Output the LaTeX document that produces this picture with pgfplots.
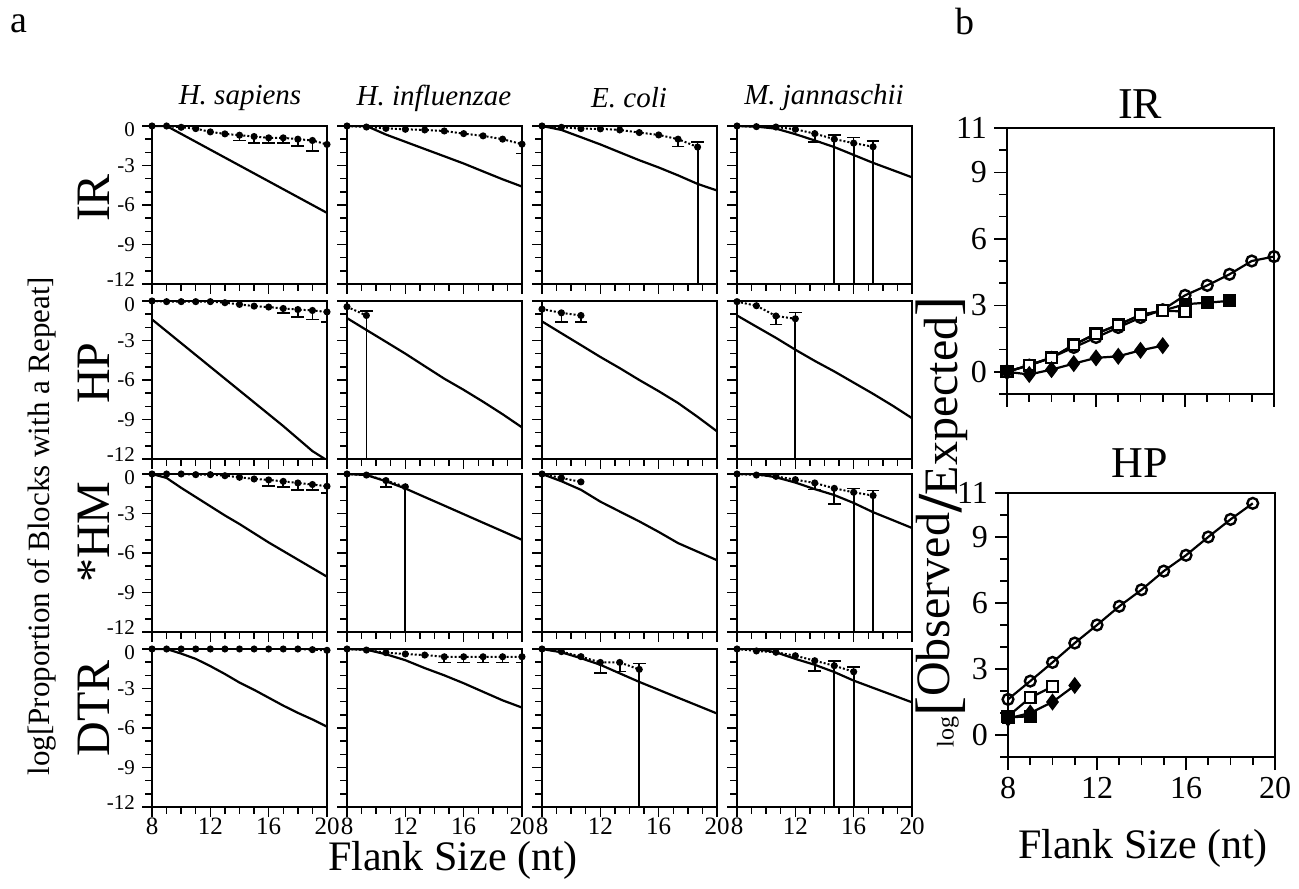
\documentclass[border=0pt]{standalone}
\usepackage{fontspec}
\setmainfont{Liberation Serif}
\usepackage{pgfplots}
\pgfplotsset{compat=1.18}

\pgfplotsset{
  pa/.style={scale only axis, width=87.5pt, height=79pt, anchor=south west,
    xmin=8, xmax=20, ymin=-12, ymax=0,
    xtick={8,12,16,20}, minor xtick={9,10,11,13,14,15,17,18,19},
    ytick={0,-3,-6,-9,-12}, minor ytick={-1,-2,-4,-5,-7,-8,-10,-11},
    xticklabels={}, yticklabels={},
    tick pos=left, tick align=outside,
    major tick length=5pt, minor tick length=3.3pt,
    every tick/.style={black, line width=0.7pt},
    axis line style={line width=0.7pt},
    ticklabel style={font=\fontsize{12.5}{14}\selectfont},
    xticklabel style={yshift=3pt},
    /pgf/number format/assume math mode=true},
  lab/.style={xticklabels={8,12,16,20}},
  ylab/.style={yticklabels={0,-3,-6,-9,-12},
    yticklabel style={font=\fontsize{10.5}{12}\selectfont, inner ysep=0pt,
      yshift={((\ticknum==4)-(\ticknum==0))*2pt}}},
  ex/.style={black, line width=1.1pt, no marks},
  ob/.style={black, densely dotted, line width=1pt, mark=*, mark size=1.25pt, mark options={solid}},
  eb/.style={draw=none, mark=none, forget plot, error bars/.cd, y dir=minus, y explicit,
    error mark options={rotate=90, mark size=3.2pt, line width=0.8pt, draw=black},
    error bar style={draw=black, line width=0.8pt}},
  ebu/.style={draw=none, mark=none, forget plot, error bars/.cd, y dir=plus, y explicit,
    error mark options={rotate=90, mark size=3.2pt, line width=0.8pt, draw=black},
    error bar style={draw=black, line width=0.8pt}},
  dl/.style={black, line width=0.9pt, no marks},
  pb/.style={scale only axis, width=133.5pt, height=133pt, anchor=south west,
    xmin=8, xmax=20, ymin=-1, ymax=11,
    xtick={8,12,16,20}, minor xtick={9,10,11,13,14,15,17,18,19},
    ytick={0,3,6,9,11}, minor ytick={-1,1,2,4,5,7,8,10},
    tick pos=left, tick align=outside,
    major tick length=6.5pt, minor tick length=4pt,
    every tick/.style={black, line width=0.8pt},
    axis line style={line width=0.8pt},
    ticklabel style={font=\fontsize{16}{18}\selectfont},
    /pgf/number format/assume math mode=true, clip=false},
  oc/.style={black, line width=1.1pt, mark=o, mark size=2.7pt, mark options={fill=white, line width=1.2pt}},
  os/.style={black, line width=1.1pt, mark=square*, mark size=2.7pt, mark options={fill=white, line width=1.2pt}},
  fs/.style={black, line width=1.1pt, mark=square*, mark size=2.7pt, mark options={fill=black}},
  fd/.style={black, line width=1.1pt, mark=diamond*, mark size=3.4pt, mark options={fill=black}},
}

\begin{document}
\begin{tikzpicture}
\path[use as bounding box] (0,0) rectangle (649.5pt,444pt);

% ---------- row 1: IR ----------
\begin{axis}[pa, ylab, at={(76pt,302pt)}]
\addplot[ex] coordinates {(8,0)(9,0)(10,-0.6)(11,-1.2)(12,-1.8)(13,-2.4)(14,-3.0)(15,-3.6)(16,-4.2)(17,-4.8)(18,-5.4)(19,-6.0)(20,-6.6)};
\addplot[ob] coordinates {(8,0)(9,0)(10,-0.1)(11,-0.2)(12,-0.45)(13,-0.6)(14,-0.7)(15,-0.8)(16,-0.9)(17,-0.9)(18,-1.0)(19,-1.1)(20,-1.4)};
\addplot[eb] coordinates {(14,-0.7)+-(0,0.4) (15,-0.8)+-(0,0.5) (16,-0.9)+-(0,0.4) (17,-0.9)+-(0,0.4) (18,-1.0)+-(0,0.5) (19,-1.1)+-(0,0.8)};
\end{axis}
\begin{axis}[pa, at={(173.5pt,302pt)}]
\addplot[ex] coordinates {(8,0)(9.33,0)(10.67,-0.65)(12,-1.2)(13.33,-1.75)(14.67,-2.3)(16,-2.85)(17.33,-3.45)(18.67,-4.05)(20,-4.6)};
\addplot[ob] coordinates {(8,0)(9.33,-0.08)(10.67,-0.18)(12,-0.25)(13.33,-0.3)(14.67,-0.38)(16,-0.58)(17.33,-0.75)(18.67,-1.0)(20,-1.38)};
\addplot[eb] coordinates {(20,-1.38)+-(0,0.7)};
\addplot[dl] coordinates {(20,-1.38)(20,-12)};
\end{axis}
\begin{axis}[pa, at={(271pt,302pt)}]
\addplot[ex] coordinates {(8,0)(9.33,-0.3)(10.67,-0.85)(12,-1.4)(13.33,-2.0)(14.67,-2.6)(16,-3.15)(17.33,-3.75)(18.67,-4.4)(20,-4.9)};
\addplot[ob] coordinates {(8,0)(9.33,-0.1)(10.67,-0.2)(12,-0.22)(13.33,-0.3)(14.67,-0.5)(16,-0.68)(17.33,-1.0)(18.67,-1.6)};
\addplot[eb] coordinates {(17.33,-1.0)+-(0,0.55)};
\addplot[ebu] coordinates {(18.67,-1.6)+-(0,0.38)};
\addplot[dl] coordinates {(18.67,-1.6)(18.67,-12)};
\end{axis}
\begin{axis}[pa, at={(368.5pt,302pt)}]
\addplot[ex] coordinates {(8,0)(9.33,-0.05)(10.67,-0.2)(12,-0.62)(13.33,-1.1)(14.67,-1.6)(16,-2.2)(17.33,-2.8)(18.67,-3.35)(20,-3.9)};
\addplot[ob] coordinates {(8,0)(9.33,-0.05)(10.67,-0.08)(12,-0.25)(13.33,-0.58)(14.67,-1.0)(16,-1.3)(17.33,-1.58)};
\addplot[eb] coordinates {(13.33,-0.58)+-(0,0.62)};
\addplot[ebu] coordinates {(14.67,-1.0)+-(0,0.3) (16,-1.3)+-(0,0.42) (17.33,-1.58)+-(0,0.46)};
\addplot[dl] coordinates {(14.67,-1.0)(14.67,-12)};
\addplot[dl] coordinates {(16,-1.3)(16,-12)};
\addplot[dl] coordinates {(17.33,-1.58)(17.33,-12)};
\end{axis}

% ---------- row 2: HP ----------
\begin{axis}[pa, ylab, at={(76pt,214.5pt)}]
\addplot[ex] coordinates {(8,-1.4)(9,-2.3)(10,-3.2)(11,-4.1)(12,-5.0)(13,-5.9)(14,-6.8)(15,-7.7)(16,-8.6)(17,-9.5)(18,-10.45)(19,-11.4)(20,-12.1)};
\addplot[ob] coordinates {(8,0)(9,-0.05)(10,-0.05)(11,-0.05)(12,-0.05)(13,-0.13)(14,-0.26)(15,-0.39)(16,-0.46)(17,-0.57)(18,-0.65)(19,-0.72)(20,-0.83)};
\addplot[eb] coordinates {(17,-0.57)+-(0,0.35) (18,-0.65)+-(0,0.55) (19,-0.72)+-(0,0.7) (20,-0.83)+-(0,0.75)};
\end{axis}
\begin{axis}[pa, at={(173.5pt,214.5pt)}]
\addplot[ex] coordinates {(8,-1.3)(9.33,-2.2)(10.67,-3.1)(12,-4.0)(13.33,-4.95)(14.67,-5.9)(16,-6.75)(17.33,-7.65)(18.67,-8.6)(20,-9.6)};
\addplot[ob] coordinates {(8,-0.44)(9.33,-1.1)};
\addplot[ebu] coordinates {(9.33,-1.1)+-(0,0.32)};
\addplot[dl] coordinates {(9.33,-1.1)(9.33,-12)};
\end{axis}
\begin{axis}[pa, at={(271pt,214.5pt)}]
\addplot[ex] coordinates {(8,-1.55)(9.33,-2.45)(10.67,-3.35)(12,-4.25)(13.33,-5.1)(14.67,-6.0)(16,-6.85)(17.33,-7.75)(18.67,-8.8)(20,-9.9)};
\addplot[ob] coordinates {(8,-0.62)(9.33,-0.9)(10.67,-1.1)};
\addplot[eb] coordinates {(9.33,-0.9)+-(0,0.7) (10.67,-1.1)+-(0,0.5)};
\end{axis}
\begin{axis}[pa, at={(368.5pt,214.5pt)}]
\addplot[ex] coordinates {(8,-1.1)(9.33,-1.95)(10.67,-2.8)(12,-3.7)(13.33,-4.55)(14.67,-5.35)(16,-6.2)(17.33,-7.05)(18.67,-7.95)(20,-8.9)};
\addplot[ob] coordinates {(8,-0.05)(9.33,-0.36)(10.67,-1.14)(12,-1.35)};
\addplot[eb] coordinates {(10.67,-1.14)+-(0,0.66)};
\addplot[ebu] coordinates {(12,-1.35)+-(0,0.47)};
\addplot[dl] coordinates {(12,-1.35)(12,-12)};
\end{axis}

% ---------- row 3: *HM ----------
\begin{axis}[pa, ylab, at={(76pt,128pt)}]
\addplot[ex] coordinates {(8,0)(9,-0.3)(10,-1.05)(11,-1.75)(12,-2.45)(13,-3.15)(14,-3.8)(15,-4.5)(16,-5.2)(17,-5.85)(18,-6.5)(19,-7.15)(20,-7.8)};
\addplot[ob] coordinates {(8,0)(9,0)(10,0)(11,-0.05)(12,-0.05)(13,-0.13)(14,-0.25)(15,-0.38)(16,-0.45)(17,-0.56)(18,-0.68)(19,-0.8)(20,-0.93)};
\addplot[eb] coordinates {(16,-0.45)+-(0,0.48) (17,-0.56)+-(0,0.44) (18,-0.68)+-(0,0.52) (19,-0.8)+-(0,0.4) (20,-0.93)+-(0,0.5)};
\end{axis}
\begin{axis}[pa, at={(173.5pt,128pt)}]
\addplot[ex] coordinates {(8,0)(9.33,-0.08)(10.67,-0.55)(12,-1.1)(13.33,-1.75)(14.67,-2.4)(16,-3.05)(17.33,-3.7)(18.67,-4.35)(20,-5.0)};
\addplot[ob] coordinates {(8,0)(9.33,-0.08)(10.67,-0.5)(12,-0.97)};
\addplot[eb] coordinates {(10.67,-0.5)+-(0,0.47)};
\addplot[dl] coordinates {(12,-0.97)(12,-12)};
\end{axis}
\begin{axis}[pa, at={(271pt,128pt)}]
\addplot[ex] coordinates {(8,0)(9.33,-0.55)(10.67,-1.2)(12,-2.1)(13.33,-2.85)(14.67,-3.6)(16,-4.4)(17.33,-5.25)(18.67,-5.9)(20,-6.55)};
\addplot[ob] coordinates {(8,0)(9.33,-0.3)(10.67,-0.6)};
\end{axis}
\begin{axis}[pa, at={(368.5pt,128pt)}]
\addplot[ex] coordinates {(8,0)(9.33,0)(10.67,-0.25)(12,-0.65)(13.33,-1.15)(14.67,-1.6)(16,-2.2)(17.33,-2.9)(18.67,-3.5)(20,-4.1)};
\addplot[ob] coordinates {(8,0)(9.33,-0.08)(10.67,-0.18)(12,-0.43)(13.33,-0.68)(14.67,-1.09)(16,-1.39)(17.33,-1.64)};
\addplot[eb] coordinates {(13.33,-0.68)+-(0,0.5) (14.67,-1.09)+-(0,1.2)};
\addplot[ebu] coordinates {(16,-1.39)+-(0,0.3) (17.33,-1.64)+-(0,0.38)};
\addplot[dl] coordinates {(16,-1.39)(16,-12)};
\addplot[dl] coordinates {(17.33,-1.64)(17.33,-12)};
\end{axis}

% ---------- row 4: DTR ----------
\begin{axis}[pa, ylab, lab, at={(76pt,40.5pt)}]
\addplot[ex] coordinates {(8,0)(9,0)(10,-0.35)(11,-0.75)(12,-1.3)(13,-1.9)(14,-2.55)(15,-3.1)(16,-3.7)(17,-4.3)(18,-4.85)(19,-5.35)(20,-5.9)};
\addplot[ob] coordinates {(8,0)(9,0)(10,0)(11,0)(12,0)(13,0)(14,0)(15,0)(16,0)(17,0)(18,0)(19,-0.05)(20,-0.1)};
\end{axis}
\begin{axis}[pa, lab, at={(173.5pt,40.5pt)}]
\addplot[ex] coordinates {(8,0)(9.33,-0.05)(10.67,-0.4)(12,-0.85)(13.33,-1.45)(14.67,-2.0)(16,-2.6)(17.33,-3.25)(18.67,-3.9)(20,-4.45)};
\addplot[ob] coordinates {(8,0)(9.33,-0.08)(10.67,-0.28)(12,-0.38)(13.33,-0.46)(14.67,-0.59)(16,-0.59)(17.33,-0.59)(18.67,-0.59)(20,-0.59)};
\addplot[eb] coordinates {(14.67,-0.59)+-(0,0.43) (16,-0.59)+-(0,0.43) (17.33,-0.59)+-(0,0.43) (18.67,-0.59)+-(0,0.43) (20,-0.59)+-(0,0.43)};
\end{axis}
\begin{axis}[pa, lab, at={(271pt,40.5pt)}]
\addplot[ex] coordinates {(8,0)(9.33,-0.25)(10.67,-0.7)(12,-1.2)(13.33,-1.85)(14.67,-2.5)(16,-3.1)(17.33,-3.7)(18.67,-4.3)(20,-4.9)};
\addplot[ob] coordinates {(8,0)(9.33,-0.2)(10.67,-0.58)(12,-1.02)(13.33,-1.02)(14.67,-1.55)};
\addplot[eb] coordinates {(12,-1.02)+-(0,0.8) (13.33,-1.02)+-(0,0.7)};
\addplot[ebu] coordinates {(14.67,-1.55)+-(0,0.46)};
\addplot[dl] coordinates {(14.67,-1.55)(14.67,-12)};
\end{axis}
\begin{axis}[pa, lab, at={(368.5pt,40.5pt)}]
\addplot[ex] coordinates {(8,0)(9.33,0)(10.67,-0.25)(12,-0.75)(13.33,-1.2)(14.67,-1.75)(16,-2.4)(17.33,-2.95)(18.67,-3.5)(20,-4.05)};
\addplot[ob] coordinates {(8,0)(9.33,-0.15)(10.67,-0.25)(12,-0.51)(13.33,-0.89)(14.67,-1.27)(16,-1.73)};
\addplot[eb] coordinates {(13.33,-0.89)+-(0,0.79)};
\addplot[ebu] coordinates {(14.67,-1.27)+-(0,0.38) (16,-1.73)+-(0,0.38)};
\addplot[dl] coordinates {(14.67,-1.27)(14.67,-12)};
\addplot[dl] coordinates {(16,-1.73)(16,-12)};
\end{axis}

% ---------- panel b ----------
\begin{axis}[pb, xticklabels={}, at={(503.5pt,247pt)}]
\addplot[fs] coordinates {(8,0)(9,0.3)(10,0.63)(11,1.22)(12,1.72)(13,2.12)(14,2.57)(15,2.76)(16,3.05)(17,3.12)(18,3.2)};
\addplot[oc] coordinates {(8,0)(9,0.3)(10,0.65)(11,1.1)(12,1.55)(13,2.0)(14,2.45)(15,2.8)(16,3.45)(17,3.9)(18,4.4)(19,5.0)(20,5.2)};
\addplot[os] coordinates {(8,0)(9,0.3)(10,0.63)(11,1.22)(12,1.72)(13,2.12)(14,2.57)(15,2.76)(16,2.72)};
\addplot[fd] coordinates {(8,0)(9,-0.12)(10,0.1)(11,0.37)(12,0.63)(13,0.7)(14,0.97)(15,1.18)};
\end{axis}
\begin{axis}[pb, height=132pt, at={(504pt,65.5pt)}]
\addplot[oc] coordinates {(8,1.62)(9,2.45)(10,3.3)(11,4.18)(12,5.0)(13,5.85)(14,6.6)(15,7.45)(16,8.17)(17,9.0)(18,9.8)(19,10.53)};
\addplot[os] coordinates {(8,0.85)(9,1.7)(10,2.2)};
\addplot[fd] coordinates {(8,0.75)(9,1.0)(10,1.5)(11,2.25)};
\addplot[fs] coordinates {(8,0.8)(9,0.85)};
\end{axis}

% ---------- texts ----------
\node at (9.5pt,432pt) {\fontsize{19}{22}\selectfont a};
\node at (482.5pt,433pt) {\fontsize{19}{22}\selectfont b};
\foreach \t/\x in {{H. sapiens}/120, {H. influenzae}/217, {E. coli}/314.5, {M. jannaschii}/412}
  \node at (\x pt,395pt) {\fontsize{14.5}{17}\selectfont\itshape \t};
\foreach \t/\y in {IR/345, HP/257.5, {*HM}/178, DTR/90}
  \node[rotate=90] at (47pt,\y pt) {\fontsize{24}{28}\selectfont \t};
\node[rotate=90] at (21pt,181pt) {\fontsize{15.5}{18}\selectfont log[Proportion of Blocks with a Repeat]};
\node at (226.5pt,14pt) {\fontsize{21}{24}\selectfont Flank Size (nt)};
\node at (570pt,392pt) {\fontsize{22}{26}\selectfont IR};
\node at (570pt,212.5pt) {\fontsize{22}{26}\selectfont HP};
\node at (571.5pt,20pt) {\fontsize{21}{24}\selectfont Flank Size (nt)};
\node[rotate=90, inner sep=0pt] at (471pt,183pt) {\fontsize{12}{14}\selectfont log\raisebox{-2pt}{\fontsize{30}{34}\selectfont[}\raisebox{2pt}{\fontsize{24}{27}\selectfont Observed}\raisebox{-4pt}{\fontsize{32}{36}\selectfont\bfseries/}\raisebox{-2pt}{\fontsize{24}{27}\selectfont Expected}\raisebox{-2pt}{\fontsize{30}{34}\selectfont]}};
\end{tikzpicture}
\end{document}
